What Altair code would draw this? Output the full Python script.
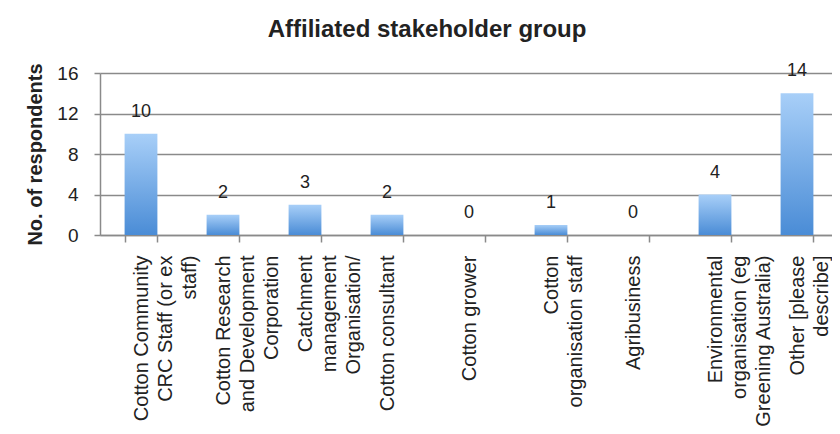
import altair as alt
import pandas as pd

# ---- data ----
categories = [
    "Cotton Community|CRC Staff (or ex|staff)",
    "Cotton Research|and Development|Corporation",
    "Catchment|management|Organisation/",
    "Cotton consultant",
    "Cotton grower",
    "Cotton|organisation staff",
    "Agribusiness",
    "Environmental|organisation (eg|Greening Australia)",
    "Other [please|describe]",
]
counts = [10, 2, 3, 2, 0, 1, 0, 4, 14]
y_ticks = [0, 4, 8, 12, 16]

df = pd.DataFrame({"group": categories, "count": counts})

FONT = "Liberation Sans"
GRID = "#8a8a8a"
TEXT = "#222222"

x_scale = alt.Scale(domain=categories, range=[0, 738], paddingInner=0.6, paddingOuter=0.3)
y_scale = alt.Scale(domain=[0, 16], nice=False)

x_enc = alt.X(
    "group:N",
    scale=x_scale,
    sort=categories,
    axis=alt.Axis(
        title=None,
        labelExpr="split(datum.label, '|')",
        labelAngle=-90,
        labelAlign="right",
        labelBaseline="middle",
        labelFont=FONT,
        labelFontSize=20,
        labelLineHeight=24,
        labelColor=TEXT,
        labelPadding=13,
        labelOverlap=False,
        labelLimit=400,
        tickBand="extent",
        tickSize=7,
        tickColor=GRID,
        tickWidth=1.5,
        domainColor=GRID,
        domainWidth=1.5,
        grid=False,
    ),
)

y_enc = alt.Y(
    "count:Q",
    scale=y_scale,
    axis=alt.Axis(
        values=y_ticks,
        title="No. of respondents",
        titleFont=FONT,
        titleFontSize=20,
        titleFontWeight="bold",
        titleColor=TEXT,
        titlePadding=11,
        labelFont=FONT,
        labelFontSize=19,
        labelColor=TEXT,
        labelPadding=16,
        tickSize=6,
        tickColor=GRID,
        tickWidth=1.5,
        domainColor=GRID,
        domainWidth=1.5,
        grid=True,
        gridColor=GRID,
        gridWidth=1.5,
    ),
)

bars = alt.Chart(df).mark_bar(
    color=alt.Gradient(
        gradient="linear",
        stops=[
            alt.GradientStop(color="#a8cff8", offset=0),
            alt.GradientStop(color="#4a8cd6", offset=1),
        ],
        x1=0, x2=0, y1=0, y2=1,
    )
).encode(x=x_enc, y=y_enc)

labels = alt.Chart(df).mark_text(
    dy=-22, baseline="middle", align="center", font=FONT, fontSize=18, color=TEXT
).encode(x=alt.X("group:N", scale=x_scale, sort=categories), y=alt.Y("count:Q", scale=y_scale), text="count:Q")

chart = (
    alt.layer(bars, labels)
    .properties(
        width=732,
        height=162,
        autosize=alt.AutoSizeParams(type="none"),
        padding={"left": 92, "top": 65, "right": 0, "bottom": 191},
        title=alt.TitleParams(
            text="Affiliated stakeholder group",
            font=FONT,
            fontSize=24,
            fontWeight="bold",
            color=TEXT,
            anchor="middle",
            dx=-39,
            offset=20,
        ),
        background="white",
    )
    .configure_view(stroke=None)
)

chart.save("out.html", embed_options={"renderer": "svg", "actions": False})
